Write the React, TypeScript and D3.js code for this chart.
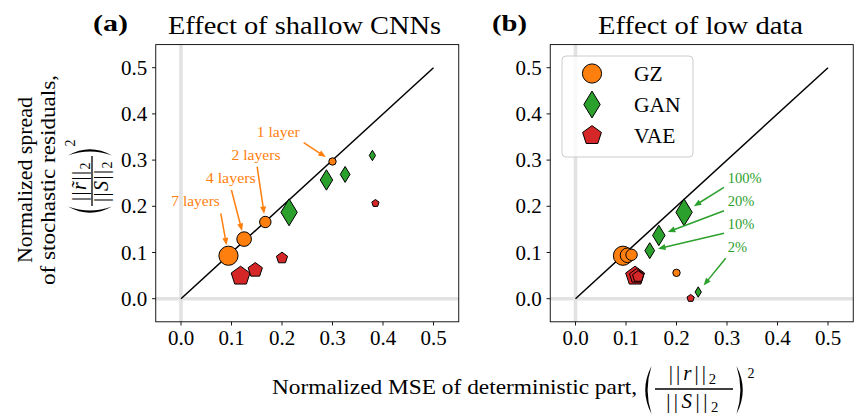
import React from "react";
import * as d3 from "d3";

const W = 854;
const H = 417;
const FONT = "Liberation Serif, DejaVu Serif, serif";

// Axis ticks shared by both panels
const ticks = [0, 0.1, 0.2, 0.3, 0.4, 0.5];

// Panel (a): effect of shallow CNNs (index = network depth)
const layerLabels = ["1 layer", "2 layers", "4 layers", "7 layers"];
const gzShallowX = [0.3, 0.167, 0.125, 0.094];
const gzShallowY = [0.297, 0.166, 0.129, 0.093];
const ganShallowX = [0.379, 0.325, 0.288, 0.214];
const ganShallowY = [0.31, 0.269, 0.257, 0.187];
const vaeShallowX = [0.385, 0.2, 0.147, 0.118];
const vaeShallowY = [0.2065, 0.088, 0.062, 0.049];

// Panel (b): effect of low data (index = fraction of training data)
const dataLabels = ["2%", "10%", "20%", "100%"];
const gzLowX = [0.2, 0.111, 0.103, 0.094];
const gzLowY = [0.056, 0.095, 0.094, 0.093];
const ganLowX = [0.243, 0.147, 0.165, 0.215];
const ganLowY = [0.0145, 0.104, 0.137, 0.187];
const vaeLowX = [0.228, 0.124, 0.121, 0.118];
const vaeLowY = [0.001, 0.048, 0.049, 0.049];

const modelNames = ["GZ", "GAN", "VAE"];
const modelColors = ["#ff7f0e", "#2ca02c", "#d62728"];
const modelShapes = ["circle", "diamond", "pentagon"];

// Marker radius per size level (smallest .. largest)
const circleR = [3.7, 5.7, 7.3, 9.6];

function markerPath(shape: string, level: number): string {
  const r = circleR[level];
  if (shape === "circle") {
    return d3.symbol().type(d3.symbolCircle).size(Math.PI * r * r)()!;
  }
  if (shape === "diamond") {
    const hh = r * 1.4;
    const hw = hh * 0.61;
    return `M0,${-hh}L${hw},0L0,${hh}L${-hw},0Z`;
  }
  const R = r * 1.03;
  const pts = d3.range(5).map((k) => {
    const a = ((-90 + k * 72) * Math.PI) / 180;
    return [R * Math.cos(a), R * Math.sin(a)];
  });
  return "M" + pts.map((p) => p.join(",")).join("L") + "Z";
}

function diamondHalfWidth(level: number) {
  return circleR[level] * 1.4 * 0.61;
}

type Series = { xs: number[]; ys: number[] };

function Arrow({ sx, sy, px, py, gap, color }: any) {
  const dx = px - sx;
  const dy = py - sy;
  const len = Math.hypot(dx, dy);
  const ux = dx / len;
  const uy = dy / len;
  const ex = px - ux * gap;
  const ey = py - uy * gap;
  const headL = 7.5;
  const headW = 3;
  const bx = ex - ux * headL;
  const by = ey - uy * headL;
  return (
    <g>
      <line x1={sx} y1={sy} x2={bx + ux} y2={by + uy} stroke={color} strokeWidth={1.5} />
      <path
        d={`M${ex},${ey}L${bx - uy * headW},${by + ux * headW}L${bx + uy * headW},${by - ux * headW}Z`}
        fill={color}
      />
    </g>
  );
}

function Panel({ x0, x1, tag, title, titleStart, titleLen, tagX, series, children }: any) {
  const x = d3.scaleLinear().domain([-0.05, 0.55]).range([x0, x1]);
  const y = d3.scaleLinear().domain([-0.05, 0.55]).range([321.8, 44.6]);
  const fmt = d3.format(".1f");
  const diag = d3.line<number>().x((d) => x(d)).y((d) => y(d));
  return (
    <g>
      {/* reference lines at zero */}
      <line x1={x(0)} x2={x(0)} y1={y.range()[0]} y2={y.range()[1]} stroke="#e2e2e2" strokeWidth={3.6} />
      <line x1={x0} x2={x1} y1={y(0)} y2={y(0)} stroke="#e2e2e2" strokeWidth={3.6} />
      <path d={diag([0, 0.5])!} stroke="#000" strokeWidth={1.5} fill="none" />
      {series.map((s: Series, m: number) =>
        [3, 2, 1, 0].map((lv) => (
          <path
            key={`${m}-${lv}`}
            d={markerPath(modelShapes[m], lv)}
            transform={`translate(${x(s.xs[lv])},${y(s.ys[lv])})`}
            fill={modelColors[m]}
            stroke="#000"
            strokeWidth={1}
          />
        ))
      )}
      {children(x, y)}
      <rect x={x0} y={y.range()[1]} width={x1 - x0} height={y.range()[0] - y.range()[1]} fill="none" stroke="#000" strokeWidth={0.9} />
      {ticks.map((t) => (
        <g key={`x${t}`}>
          <line x1={x(t)} x2={x(t)} y1={321.8} y2={325.5} stroke="#000" strokeWidth={0.9} />
          <text x={x(t)} y={344.5} textAnchor="middle" fontSize={21}>
            {fmt(t)}
          </text>
        </g>
      ))}
      {ticks.map((t) => (
        <g key={`y${t}`}>
          <line x1={x0 - 3.7} x2={x0} y1={y(t)} y2={y(t)} stroke="#000" strokeWidth={0.9} />
          <text x={x0 - 8.5} y={y(t) + 7} textAnchor="end" fontSize={21}>
            {fmt(t)}
          </text>
        </g>
      ))}
      <text x={tagX} y={31} fontSize={24} fontWeight="bold" textLength={35} lengthAdjust="spacingAndGlyphs">
        {tag}
      </text>
      <text x={titleStart} y={34} fontSize={25} textLength={titleLen} lengthAdjust="spacingAndGlyphs">
        {title}
      </text>
    </g>
  );
}

function Paren({ cx, cy, half, right }: any) {
  // crescent-shaped tall parenthesis, drawn around (cx, cy)
  const s = right ? -1 : 1;
  const w = 9;
  const top = cy - half;
  const bot = cy + half;
  const xe = cx + (s * w) / 2;
  const xo = cx - (s * w) / 2;
  return (
    <path
      d={`M${xe},${top}Q${xo - s * 3.5},${cy} ${xe},${bot}Q${xo + s * 1.2},${cy} ${xe},${top}Z`}
      fill="#000"
    />
  );
}

function NormText({ x, y, sym, tilde, spacing, size }: any) {
  const fs = size || 20;
  return (
    <text x={x} y={y} textAnchor="middle" fontSize={fs} letterSpacing={spacing || 0}>
      ||
      <tspan fontStyle="italic">{tilde ? sym + "\u0303" : sym}</tspan>
      ||
      <tspan fontSize={fs * 0.7} dy={4}>2</tspan>
    </text>
  );
}

export default function App() {
  const shallow: Series[] = [
    { xs: gzShallowX, ys: gzShallowY },
    { xs: ganShallowX, ys: ganShallowY },
    { xs: vaeShallowX, ys: vaeShallowY },
  ];
  const low: Series[] = [
    { xs: gzLowX, ys: gzLowY },
    { xs: ganLowX, ys: ganLowY },
    { xs: vaeLowX, ys: vaeLowY },
  ];

  // label placement relative to the annotated marker, and arrow tail relative to the marker
  const layerText = [
    [-54.3, -24],
    [-9.3, -62],
    [-13.4, -56.6],
    [-32.9, -49.7],
  ];
  const layerTail = [
    [-28.8, -18.8],
    [-8.2, -55.3],
    [-12.7, -49.1],
    [-7.7, -42.4],
  ];
  const layerLen = [43, 49, 50, 48.5];

  const dataText = [
    [29.5, -40],
    [78, -21.7],
    [68.9, -29.4],
    [43.6, -29.3],
  ];
  const dataTail = [
    [-2, 6.3],
    [-3.7, 4.3],
    [-3.7, 4.7],
    [-3.7, 4.3],
  ];

  const legendY = [73.5, 104.5, 135.5];

  return (
    <svg
      width={W}
      height={H}
      viewBox={`0 0 ${W} ${H}`}
      fontFamily={FONT}
      style={{ position: "absolute", left: 0, top: 0, background: "#fff" }}
    >
      <rect width={W} height={H} fill="#fff" />
      <Panel
        x0={155.75}
        x1={458.75}
        tag="(a)"
        tagX={93}
        title="Effect of shallow CNNs"
        titleStart={168}
        titleLen={273}
        series={shallow}
      >
        {(x: any, y: any) =>
          layerLabels.map((lab, i) => {
            const px = x(gzShallowX[i]);
            const py = y(gzShallowY[i]);
            const gap = Math.max(8, circleR[i] + 1);
            return (
              <g key={lab}>
                <Arrow sx={px + layerTail[i][0]} sy={py + layerTail[i][1]} px={px} py={py} gap={gap} color="#ff7f0e" />
                <text
                  x={px + layerText[i][0]}
                  y={py + layerText[i][1]}
                  textAnchor="middle"
                  fontSize={14.5}
                  fill="#ff7f0e"
                  textLength={layerLen[i]}
                  lengthAdjust="spacingAndGlyphs"
                >
                  {lab}
                </text>
              </g>
            );
          })
        }
      </Panel>
      <Panel
        x0={550.25}
        x1={853.25}
        tag="(b)"
        tagX={492}
        title="Effect of low data"
        titleStart={598}
        titleLen={205}
        series={low}
      >
        {(x: any, y: any) => (
          <g>
            {dataLabels.map((lab, i) => {
              const px = x(ganLowX[i]);
              const py = y(ganLowY[i]);
              const tx = px + dataText[i][0];
              const ty = py + dataText[i][1];
              const gap = Math.max(8.5, diamondHalfWidth(i) + 3.3);
              return (
                <g key={lab}>
                  <Arrow sx={tx + dataTail[i][0]} sy={ty + dataTail[i][1]} px={px} py={py} gap={gap} color="#2ca02c" />
                  <text x={tx} y={ty} fontSize={14.5} fill="#2ca02c">
                    {lab}
                  </text>
                </g>
              );
            })}
            <rect x={562} y={56} width={131} height={101} rx={4} fill="#fff" fillOpacity={0.8} stroke="#cccccc" strokeWidth={1} />
            {modelNames.map((name, m) => (
              <g key={name}>
                <path
                  d={markerPath(modelShapes[m], 3)}
                  transform={`translate(592,${legendY[m]})`}
                  fill={modelColors[m]}
                  stroke="#000"
                  strokeWidth={1}
                />
                <text x={634} y={legendY[m] + 7.5} fontSize={21.5}>
                  {name}
                </text>
              </g>
            ))}
          </g>
        )}
      </Panel>

      {/* y-axis label */}
      <g transform="translate(32,180) rotate(-90)">
        <text x={0} y={0} textAnchor="middle" fontSize={21} textLength={166} lengthAdjust="spacingAndGlyphs">
          Normalized spread
        </text>
        <text x={0} y={23} textAnchor="middle" fontSize={21} textLength={210} lengthAdjust="spacingAndGlyphs">
          of stochastic residuals,
        </text>
      </g>
      <g transform="translate(92,181) rotate(-90)">
        <Paren cx={-30} cy={-2} half={22} />
        <NormText x={0} y={-6} sym="r" tilde spacing={1.5} />
        <line x1={-25} x2={25} y1={0} y2={0} stroke="#000" strokeWidth={1.3} />
        <NormText x={0} y={16} sym="S" spacing={1.5} />
        <Paren cx={30} cy={-2} half={22} right />
        <text x={38} y={-17} textAnchor="middle" fontSize={14}>
          2
        </text>
      </g>

      {/* x-axis label */}
      <text x={272} y={394} fontSize={21} textLength={365} lengthAdjust="spacingAndGlyphs">
        Normalized MSE of deterministic part,
      </text>
      <Paren cx={647} cy={390} half={24} />
      <NormText x={694} y={380} sym="r" spacing={3} size={21} />
      <line x1={655} x2={733} y1={389} y2={389} stroke="#000" strokeWidth={1.3} />
      <NormText x={694} y={408} sym="S" spacing={3.5} size={21} />
      <Paren cx={741} cy={390} half={24} right />
      <text x={751} y={378} textAnchor="middle" fontSize={14}>
        2
      </text>
    </svg>
  );
}
